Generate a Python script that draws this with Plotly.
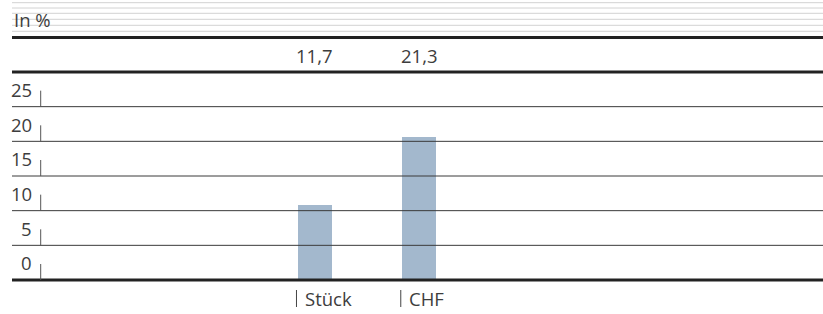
import plotly.graph_objects as go

# ---- data ----
categories = ["Stück", "CHF"]
values = [11.7, 21.3]
y_tick_labels = ["25", "20", "15", "10", "5", "0"]
unit_label = "In %"

# ---- layout geometry ----
W, H = 823, 314
L, R, T, B = 12, 0, 72, 34
plot_w = W - L - R
plot_h = H - T - B

def py(p):
    """pixel row -> paper y"""
    return (H - B - p) / plot_h

def px(p):
    """pixel column -> paper x"""
    return (p - L) / plot_w

x_range = [-2.905, 4.871]
units_per_px = (x_range[1] - x_range[0]) / plot_w
y_range = [1.115, 30.48]
bar_w = 0.326

font = dict(family="Open Sans, Noto Sans, sans-serif", size=18.5, color="#3d3d3d")

fig = go.Figure(
    go.Bar(
        x=list(range(len(categories))),
        y=values,
        width=bar_w,
        marker_color="#a3b8cd",
        marker_line_width=0,
        hoverinfo="skip",
    )
)

shapes = []
annotations = []

# faint decorative lines at top
for p in [2.7, 8, 13.3, 19.3, 25.3, 31.3]:
    shapes.append(dict(type="line", xref="paper", yref="paper", x0=0, x1=1,
                       y0=py(p), y1=py(p), line=dict(color="#d2d2d2", width=1), layer="below"))
# thick line under unit label
shapes.append(dict(type="line", xref="paper", yref="paper", x0=0, x1=1,
                   y0=py(37.5), y1=py(37.5), line=dict(color="#222222", width=3), layer="above"))

# band lines of the plot area
n = len(y_tick_labels)
for i in range(n + 1):
    y = i / n
    thick = i in (0, n)
    shapes.append(dict(type="line", xref="paper", yref="paper", x0=0, x1=1,
                       y0=y, y1=y,
                       line=dict(color="#222222" if thick else "#3a3a3a", width=3 if thick else 1),
                       layer="above"))

# y labels with small marks
for i, lab in enumerate(y_tick_labels):
    yc = 1 - (i + 0.5) / n
    annotations.append(dict(text=lab, xref="paper", yref="paper", x=px(33.5), y=yc,
                            xanchor="right", yanchor="middle", showarrow=False, font=font))
    y0 = 1 - (i + 1) / n
    shapes.append(dict(type="line", xref="paper", yref="paper", x0=px(40.7), x1=px(40.7),
                       y0=y0, y1=y0 + 16 / plot_h, line=dict(color="#555555", width=1)))

# value labels and category labels
for i, (c, v) in enumerate(zip(categories, values)):
    annotations.append(dict(text=f"{v:.1f}".replace(".", ","), xref="x", yref="paper",
                            x=i, y=py(55), xanchor="center", yanchor="middle",
                            showarrow=False, font=font))
    left = i - bar_w / 2
    annotations.append(dict(text=c, xref="x", yref="paper", x=left, xshift=5,
                            y=py(298), xanchor="left", yanchor="middle",
                            showarrow=False, font=font))
    xm = left - 1.5 * units_per_px
    shapes.append(dict(type="line", xref="x", yref="paper", x0=xm, x1=xm,
                       y0=py(290), y1=py(307), line=dict(color="#444444", width=1)))

annotations.append(dict(text=unit_label, xref="paper", yref="paper", x=0, y=py(19),
                        xanchor="left", yanchor="middle", showarrow=False, font=font))

fig.update_layout(
    width=W, height=H,
    margin=dict(l=L, r=R, t=T, b=B),
    paper_bgcolor="white", plot_bgcolor="white",
    showlegend=False,
    shapes=shapes,
    annotations=annotations,
    xaxis=dict(range=x_range, visible=False, fixedrange=True),
    yaxis=dict(range=y_range, visible=False, fixedrange=True),
    bargap=0,
)

fig.write_html(
    "out.html",
    config={"displayModeBar": False},
    post_script="document.body.style.margin='0';document.body.style.overflow='hidden';",
)
